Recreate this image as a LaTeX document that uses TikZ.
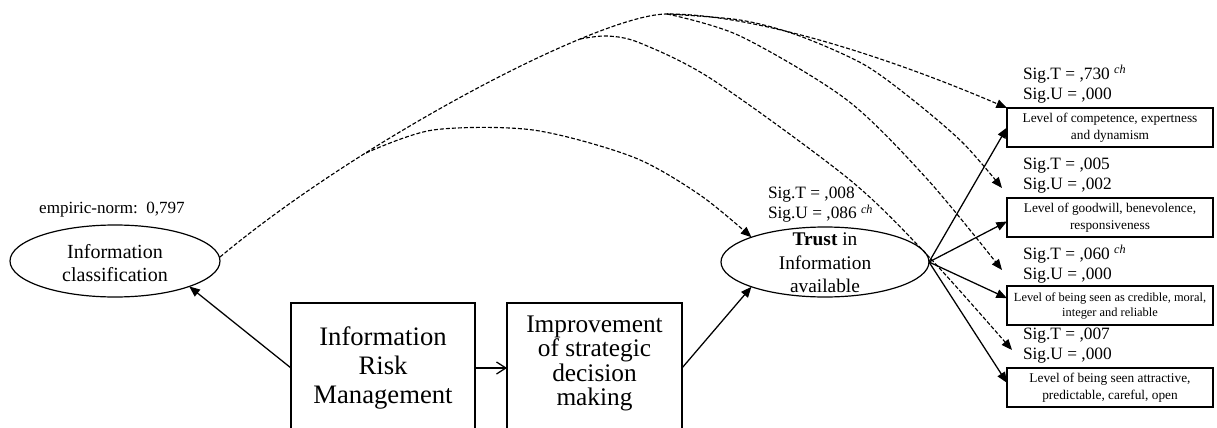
\documentclass[tikz,border=0pt]{standalone}
\usepackage{fontspec}
\setmainfont{Liberation Serif}
\usetikzlibrary{arrows.meta,shapes.geometric}

\newcommand\fs[2]{\fontsize{#1}{#2}\selectfont}
\newcommand\chmark{\textsuperscript{\itshape ch}}

\begin{document}
\begin{tikzpicture}[x=0.75pt,y=-0.75pt,
  every node/.style={inner sep=0pt, outer sep=0pt},
  latent/.style={draw, ellipse, line width=0.9pt},
  latenttext/.style={align=center, font=\fs{15}{17.6}},
  mainbox/.style={draw, rectangle, line width=0.9pt, minimum height=97.5pt},
  outbox/.style={draw, rectangle, line width=1pt, minimum width=154.5pt,
                 minimum height=29.25pt, align=center, font=\fs{10}{12.75}},
  siglabel/.style={anchor=west, align=left, font=\fs{13}{15}},
  solidarrow/.style={-{Triangle[length=8pt,width=6.5pt]}, line width=0.95pt},
  dasharrow/.style={-{Triangle[length=8pt,width=6.5pt]}, line width=0.85pt,
                    dash pattern=on 3pt off 1.5pt},
]
\useasboundingbox (0,0) rectangle (1217,428);
\fill[white] (0,0) rectangle (1217,428);
\clip (0,0) rectangle (1217,428);

% latent constructs
\node[latent, minimum width=157.5pt, minimum height=54pt] (ic) at (115,261) {};
\node[latenttext] (ictext) at (115,263) {Information\\classification};
\node[font=\fs{12.8}{15}] (norm) at (112,210) {empiric-norm:\ \ 0,797};

\node[latent, minimum width=156pt, minimum height=52.5pt] (trust) at (825,262) {};
\node[latenttext, font=\fs{14.5}{17.6}] (trusttext) at (825,263) {\textbf{Trust} in\\Information\\available};
\node[siglabel] (s0) at (768,205) {Sig.T = ,008\\Sig.U = ,086 \chmark};

% management boxes
\node[mainbox, minimum width=138pt, align=center, font=\fs{20}{21.4}] (irm) at (383,368)
  {Information\\Risk\\Management};
\node[mainbox, minimum width=131.25pt] (imp) at (594.5,368) {};
\node[align=center, font=\fs{19}{18.2}] (imptext) at (594.5,363.5)
  {Improvement\\of strategic\\decision\\making};

% outcome boxes
\node[outbox] (o1) at (1110,127.5) {Level of competence, expertness\\and dynamism};
\node[outbox] (o2) at (1110,217.5) {Level of goodwill, benevolence,\\responsiveness};
\node[outbox, font=\fs{9.3}{11.25}] (o3) at (1110,305.5)
  {Level of being seen as credible, moral,\\integer and reliable};
\node[outbox] (o4) at (1110,387.5) {Level of being seen attractive,\\predictable, careful, open};

\node[siglabel] (s1) at (1023,84) {Sig.T = ,730 \chmark\\Sig.U = ,000};
\node[siglabel] (s2) at (1023,176) {Sig.T = ,005\\Sig.U = ,002};
\node[siglabel] (s3) at (1023,264) {Sig.T = ,060 \chmark\\Sig.U = ,000};
\node[siglabel] (s4) at (1023,346) {Sig.T = ,007\\Sig.U = ,000};

% solid paths
\draw[solidarrow] (irm.west) -- (ic.south east);
\draw[-{Straight Barb[length=7pt,width=9pt]}, line width=0.95pt] (irm.east) -- (imp.west);
\draw[solidarrow] (imp.east) -- (trust.south west);
\draw[solidarrow] (trust.east) -- (o1.west);
\draw[solidarrow] (trust.east) -- ([yshift=-3pt]o2.west);
\draw[solidarrow] (trust.east) -- ([yshift=5.5pt]o3.west);
\draw[solidarrow] (trust.east) -- ([yshift=3.5pt]o4.west);

% dashed paths from information classification
\coordinate (b1) at (366,153);
\coordinate (b2) at (580,39);
\coordinate (b3) at (667,14);
\coordinate (t2) at (1002,188);
\coordinate (t3) at (1002,270);
\coordinate (t4) at (1012,350);

\draw[dasharrow] ([yshift=3pt]ic.east) .. controls (360,140) and (600,14) .. (b3)
  .. controls (760,14) and (900,62) .. (o1.north west);
\draw[dasharrow] plot[smooth] coordinates
  {(b1) (433,130) (533,130) (633,157) (700,195) (trust.north west)};
\draw[dasharrow] plot[smooth] coordinates
  {(b2) (607,36) (640,43) (713,80) (850,180) (930,258) (t4)};
\draw[dasharrow] plot[smooth] coordinates
  {(b3) (740,20) (797,35) (863,64) (913,100) (963,143) (t2)};
\draw[dasharrow] plot[smooth] coordinates
  {(b3) (740,36) (847,100) (928,180) (t3)};
\end{tikzpicture}
\end{document}
